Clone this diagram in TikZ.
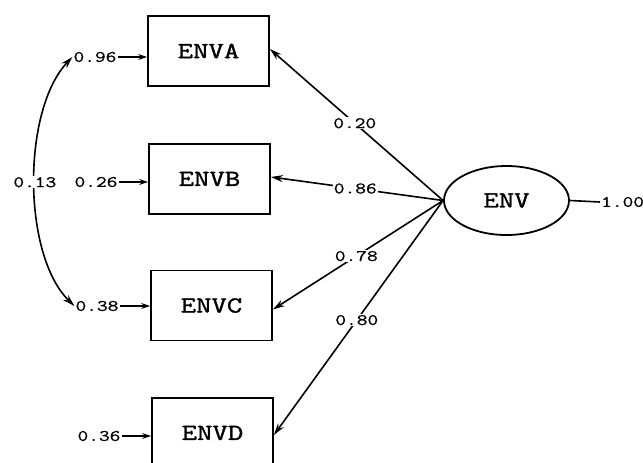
\documentclass[tikz,border=0pt]{standalone}
\usepackage{fontspec}
\newfontfamily\cour[FakeStretch=1.3,FakeBold=1.5]{Latin Modern Mono}
\newfontfamily\courn[FakeStretch=1.3,FakeBold=1]{Latin Modern Mono}
\usetikzlibrary{shapes.geometric,arrows.meta}
\begin{document}
\begin{tikzpicture}[x=1pt,y=-1pt,
  obs/.style={draw,line width=1.8pt,minimum width=121pt,minimum height=70pt,inner sep=0pt,font=\cour\fontsize{23}{23}\selectfont},
  lat/.style={ellipse,draw,line width=1.8pt,minimum width=125pt,minimum height=69pt,inner sep=0pt,font=\cour\fontsize{23}{23}\selectfont},
  num/.style={font=\courn\fontsize{16}{16}\selectfont,inner sep=1pt},
  lbl/.style={num,fill=white,pos=0.51},
  link/.style={line width=1.6pt,-{Stealth[length=12pt,width=7pt]}},
  err/.style={line width=1.6pt,-{Stealth[length=9pt,width=6pt]}},
  cov/.style={line width=1.6pt,{Stealth[length=12pt,width=7pt]}-{Stealth[length=12pt,width=7pt]}}]
\useasboundingbox (0,0) rectangle (643,463);
\clip (0,0) rectangle (643,463);
\node[obs] (A) at (208.5,51) {ENVA};
\node[obs] (B) at (209.5,179) {ENVB};
\node[obs] (C) at (211.5,305.5) {ENVC};
\node[obs] (D) at (212.5,433) {ENVD};
\node[lat] (env) at (506.5,200.5) {ENV};
\node[num] (e1) at (95,57) {0.96};
\node[num] (e2) at (96,182) {0.26};
\node[num] (e3) at (97,306) {0.38};
\node[num] (e4) at (99,436) {0.36};
\node[num,anchor=west] (v) at (600,202) {1.00};
\draw[line width=1.6pt] (env.east) -- (v.west);
\draw[link] (env.west) -- node[lbl] {0.20} ([yshift=2pt]A.east);
\draw[link] (env.west) -- node[lbl] {0.86} ([yshift=2pt]B.east);
\draw[link] (env.west) -- node[lbl] {0.78} ([yshift=-4pt]C.east);
\draw[link] (env.west) -- node[lbl] {0.80} ([yshift=-2pt]D.east);
\draw[err] (e1.east) -- (A.west |- e1.east);
\draw[err] (e2.east) -- (B.west |- e2.east);
\draw[err] (e3.east) -- (C.west |- e3.east);
\draw[err] (e4.east) -- (D.west |- e4.east);
\draw[cov] (e1.west) .. controls (22,110) and (22,255) .. node[num,fill=white,pos=0.5] {0.13} (e3.west);
\end{tikzpicture}
\end{document}
